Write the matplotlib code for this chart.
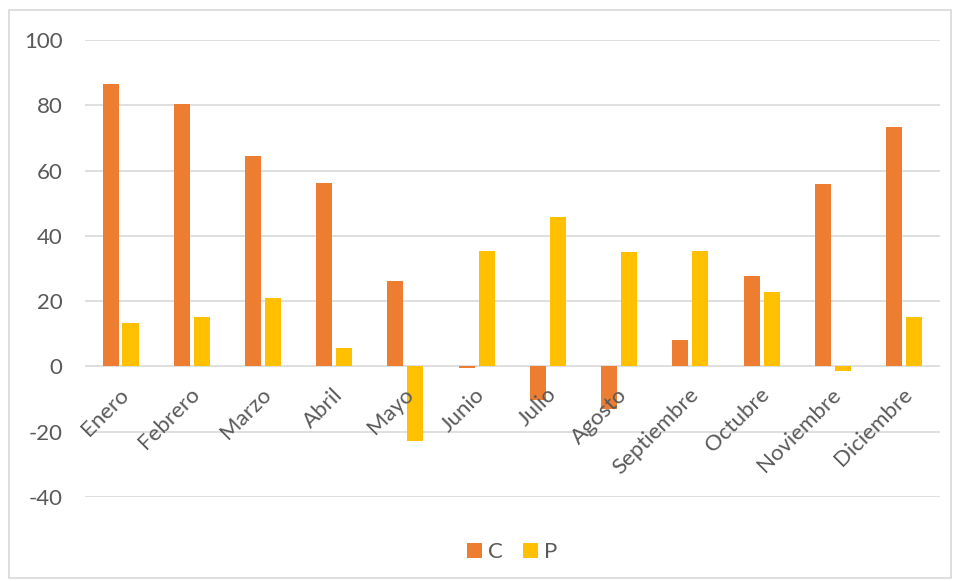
import numpy as np
import matplotlib.pyplot as plt
from matplotlib.patches import Rectangle

plt.rcParams['font.family'] = ['Lato', 'DejaVu Sans']
plt.rcParams['axes.unicode_minus'] = False

meses = ["Enero", "Febrero", "Marzo", "Abril", "Mayo", "Junio", "Julio",
         "Agosto", "Septiembre", "Octubre", "Noviembre", "Diciembre"]
c_vals = [86.5, 80.4, 64.5, 56.2, 26.1, -0.6, -10.4, -12.9, 8.0, 27.6, 55.8, 73.3]
p_vals = [13.3, 15.0, 21.1, 5.5, -23.0, 35.3, 45.7, 35.0, 35.3, 22.7, -1.3, 15.0]

naranja = "#ED7D31"
amarillo = "#FFC000"
gris = "#595959"

fig = plt.figure(figsize=(9.54, 5.81), dpi=100)
ax = fig.add_axes([0.089, 0.1446, 0.896, 0.7866])

x = np.arange(len(meses))
w = 0.225
ax.bar(x - 0.14, c_vals, w, color=naranja, label="C", zorder=3)
ax.bar(x + 0.14, p_vals, w, color=amarillo, label="P", zorder=3)

ax.set_xlim(-0.5, len(meses) - 0.5)
ax.set_ylim(-40, 100)
ax.set_yticks(range(-40, 101, 20))
ax.yaxis.grid(True, color="#d9d9d9", linewidth=1.2, zorder=0)
ax.set_xticks([])
for s in ax.spines.values():
    s.set_visible(False)
ax.tick_params(axis="y", length=0, pad=16, labelsize=16, labelcolor=gris)

# etiquetas de mes junto al eje en 0
for i, m in enumerate(meses):
    ax.text(i - 0.03, -5.5, m, rotation=45, ha="right", va="top",
            rotation_mode="anchor", fontsize=16, color=gris, zorder=4)

ax.legend(loc="upper center", bbox_to_anchor=(0.5, -0.055), ncol=2, frameon=False,
          fontsize=16, labelcolor=gris, handlelength=0.65, handleheight=0.65,
          columnspacing=0.9, handletextpad=0.3)

fig.patches.append(Rectangle((0.009, 0.005), 0.988, 0.978, transform=fig.transFigure,
                             fill=False, edgecolor="#d9d9d9", linewidth=1.2))

fig.savefig("out.png", dpi=100)
